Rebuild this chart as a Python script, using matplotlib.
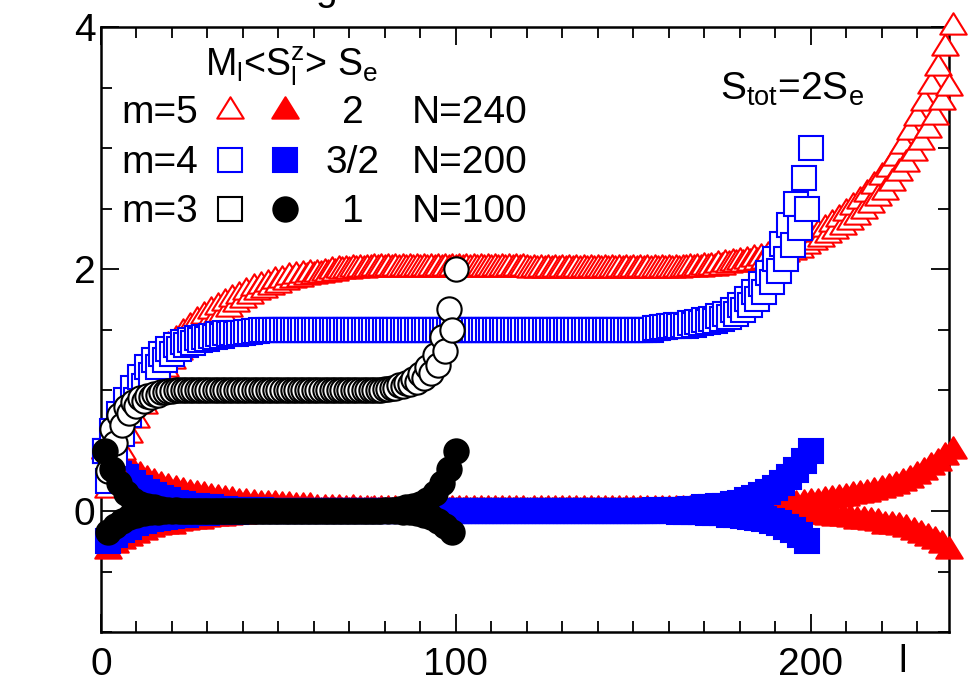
import matplotlib
matplotlib.use("Agg")
import matplotlib.pyplot as plt
import numpy as np
from matplotlib.lines import Line2D
from matplotlib.path import Path
from matplotlib.ticker import MultipleLocator

plt.rcParams["font.family"] = ["Liberation Sans", "DejaVu Sans"]
plt.rcParams["mathtext.fontset"] = "custom"
plt.rcParams["mathtext.rm"] = "Liberation Sans"
plt.rcParams["mathtext.it"] = "Liberation Sans"
plt.rcParams["mathtext.default"] = "rm"

# m=3, N=100, S_e=1 : local <S_l^z> (filled) and M_l (open)
black_spin = [
    0.50, -0.17, 0.35, -0.12, 0.23, -0.08, 0.15, -0.05, 0.09, -0.03,
    0.06, -0.02, 0.04, -0.01, 0.03, -0.01, 0.02, 0.0, 0.01, 0.0,
    0.01, 0.0, 0.0, 0.0, 0.0, 0.0, 0.0, 0.0, 0.0, 0.0,
    0.0, 0.0, 0.0, 0.0, 0.0, 0.0, 0.0, 0.0, 0.0, 0.0,
    0.0, 0.0, 0.0, 0.0, 0.0, 0.0, 0.0, 0.0, 0.0, 0.0,
    0.0, 0.0, 0.0, 0.0, 0.0, 0.0, 0.0, 0.0, 0.0, 0.0,
    0.0, 0.0, 0.0, 0.0, 0.0, 0.0, 0.0, 0.0, 0.0, 0.0,
    0.0, 0.0, 0.0, 0.0, 0.0, 0.0, 0.0, 0.0, 0.0, 0.01,
    0.0, 0.01, 0.0, 0.02, -0.01, 0.03, -0.01, 0.04, -0.02, 0.06,
    -0.03, 0.09, -0.05, 0.15, -0.08, 0.23, -0.12, 0.35, -0.17, 0.50,
]
black_moment = [
    0.50, 0.33, 0.68, 0.56, 0.79, 0.71, 0.86, 0.81, 0.90, 0.87,
    0.93, 0.91, 0.95, 0.94, 0.97, 0.96, 0.98, 0.98, 0.99, 0.99,
    1.0, 1.0, 1.0, 1.0, 1.0, 1.0, 1.0, 1.0, 1.0, 1.0,
    1.0, 1.0, 1.0, 1.0, 1.0, 1.0, 1.0, 1.0, 1.0, 1.0,
    1.0, 1.0, 1.0, 1.0, 1.0, 1.0, 1.0, 1.0, 1.0, 1.0,
    1.0, 1.0, 1.0, 1.0, 1.0, 1.0, 1.0, 1.0, 1.0, 1.0,
    1.0, 1.0, 1.0, 1.0, 1.0, 1.0, 1.0, 1.0, 1.0, 1.0,
    1.0, 1.0, 1.0, 1.0, 1.0, 1.0, 1.0, 1.0, 1.0, 1.01,
    1.01, 1.02, 1.02, 1.04, 1.03, 1.06, 1.05, 1.09, 1.07, 1.13,
    1.10, 1.19, 1.14, 1.29, 1.21, 1.44, 1.32, 1.67, 1.50, 2.00,
]

# m=4, N=200, S_e=3/2
blue_spin = [
    0.50, -0.25, 0.41, -0.20, 0.34, -0.16, 0.28, -0.13, 0.23, -0.10,
    0.19, -0.08, 0.16, -0.07, 0.13, -0.06, 0.11, -0.05, 0.09, -0.04,
    0.07, -0.03, 0.06, -0.03, 0.04, -0.02, 0.04, -0.02, 0.03, -0.02,
    0.03, -0.01, 0.02, -0.01, 0.02, -0.01, 0.01, -0.01, 0.01, 0.0,
    0.01, 0.0, 0.01, 0.0, 0.01, 0.0, 0.0, 0.0, 0.0, 0.0,
    0.0, 0.0, 0.0, 0.0, 0.0, 0.0, 0.0, 0.0, 0.0, 0.0,
    0.0, 0.0, 0.0, 0.0, 0.0, 0.0, 0.0, 0.0, 0.0, 0.0,
    0.0, 0.0, 0.0, 0.0, 0.0, 0.0, 0.0, 0.0, 0.0, 0.0,
    0.0, 0.0, 0.0, 0.0, 0.0, 0.0, 0.0, 0.0, 0.0, 0.0,
    0.0, 0.0, 0.0, 0.0, 0.0, 0.0, 0.0, 0.0, 0.0, 0.0,
    0.0, 0.0, 0.0, 0.0, 0.0, 0.0, 0.0, 0.0, 0.0, 0.0,
    0.0, 0.0, 0.0, 0.0, 0.0, 0.0, 0.0, 0.0, 0.0, 0.0,
    0.0, 0.0, 0.0, 0.0, 0.0, 0.0, 0.0, 0.0, 0.0, 0.0,
    0.0, 0.0, 0.0, 0.0, 0.0, 0.0, 0.0, 0.0, 0.0, 0.0,
    0.0, 0.0, 0.0, 0.0, 0.0, 0.0, 0.0, 0.0, 0.0, 0.0,
    0.0, 0.0, 0.0, 0.0, 0.0, 0.01, 0.0, 0.01, 0.0, 0.01,
    0.0, 0.01, -0.01, 0.01, -0.01, 0.02, -0.01, 0.02, -0.01, 0.03,
    -0.02, 0.03, -0.02, 0.04, -0.02, 0.04, -0.03, 0.06, -0.03, 0.07,
    -0.04, 0.09, -0.05, 0.11, -0.06, 0.13, -0.07, 0.16, -0.08, 0.19,
    -0.10, 0.23, -0.13, 0.28, -0.16, 0.34, -0.20, 0.41, -0.25, 0.50,
]
blue_moment = [
    0.50, 0.25, 0.66, 0.46, 0.80, 0.64, 0.92, 0.79, 1.02, 0.92,
    1.11, 1.03, 1.19, 1.12, 1.25, 1.19, 1.30, 1.25, 1.34, 1.30,
    1.37, 1.34, 1.40, 1.37, 1.41, 1.39, 1.43, 1.41, 1.44, 1.42,
    1.45, 1.44, 1.46, 1.45, 1.47, 1.46, 1.47, 1.46, 1.47, 1.47,
    1.48, 1.48, 1.49, 1.49, 1.50, 1.50, 1.50, 1.50, 1.50, 1.50,
    1.5, 1.5, 1.5, 1.5, 1.5, 1.5, 1.5, 1.5, 1.5, 1.5,
    1.5, 1.5, 1.5, 1.5, 1.5, 1.5, 1.5, 1.5, 1.5, 1.5,
    1.5, 1.5, 1.5, 1.5, 1.5, 1.5, 1.5, 1.5, 1.5, 1.5,
    1.5, 1.5, 1.5, 1.5, 1.5, 1.5, 1.5, 1.5, 1.5, 1.5,
    1.5, 1.5, 1.5, 1.5, 1.5, 1.5, 1.5, 1.5, 1.5, 1.5,
    1.5, 1.5, 1.5, 1.5, 1.5, 1.5, 1.5, 1.5, 1.5, 1.5,
    1.5, 1.5, 1.5, 1.5, 1.5, 1.5, 1.5, 1.5, 1.5, 1.5,
    1.5, 1.5, 1.5, 1.5, 1.5, 1.5, 1.5, 1.5, 1.5, 1.5,
    1.5, 1.5, 1.5, 1.5, 1.5, 1.5, 1.5, 1.5, 1.5, 1.5,
    1.5, 1.5, 1.5, 1.5, 1.5, 1.5, 1.5, 1.5, 1.5, 1.5,
    1.50, 1.50, 1.50, 1.50, 1.50, 1.51, 1.51, 1.52, 1.52, 1.53,
    1.53, 1.54, 1.53, 1.54, 1.53, 1.55, 1.54, 1.56, 1.55, 1.58,
    1.56, 1.59, 1.57, 1.61, 1.59, 1.63, 1.60, 1.66, 1.63, 1.70,
    1.66, 1.75, 1.70, 1.81, 1.75, 1.88, 1.81, 1.97, 1.89, 2.08,
    1.98, 2.21, 2.08, 2.36, 2.20, 2.54, 2.34, 2.75, 2.50, 3.00,
]

# m=5, N=240, S_e=2
red_spin = [
    0.50, -0.33, 0.45, -0.28, 0.40, -0.25, 0.36, -0.22, 0.32, -0.20,
    0.29, -0.17, 0.26, -0.15, 0.23, -0.13, 0.21, -0.12, 0.19, -0.12,
    0.17, -0.10, 0.16, -0.09, 0.14, -0.08, 0.13, -0.08, 0.12, -0.07,
    0.11, -0.06, 0.10, -0.06, 0.09, -0.05, 0.08, -0.04, 0.07, -0.04,
    0.07, -0.03, 0.06, -0.03, 0.05, -0.03, 0.05, -0.03, 0.05, -0.03,
    0.04, -0.02, 0.04, -0.02, 0.03, -0.02, 0.03, -0.02, 0.03, -0.02,
    0.02, -0.01, 0.02, -0.01, 0.02, -0.01, 0.02, -0.01, 0.01, -0.01,
    0.02, -0.01, 0.01, -0.01, 0.01, 0.0, 0.01, -0.01, 0.01, -0.01,
    0.01, -0.01, 0.01, -0.01, 0.01, -0.01, 0.01, -0.01, 0.01, -0.01,
    0.01, -0.01, 0.01, -0.01, 0.01, -0.01, 0.01, -0.01, 0.01, -0.01,
    0.01, -0.01, 0.01, -0.01, 0.01, -0.01, 0.01, -0.01, 0.01, -0.01,
    0.01, -0.01, 0.01, -0.01, 0.01, -0.01, 0.01, -0.01, 0.01, -0.01,
    -0.01, 0.01, -0.01, 0.01, -0.01, 0.01, -0.01, 0.01, -0.01, 0.01,
    -0.01, 0.01, -0.01, 0.01, -0.01, 0.01, -0.01, 0.01, -0.01, 0.01,
    -0.01, 0.01, -0.01, 0.01, -0.01, 0.01, -0.01, 0.01, -0.01, 0.01,
    -0.01, 0.01, -0.01, 0.01, -0.01, 0.01, -0.01, 0.01, -0.01, 0.01,
    -0.01, 0.01, -0.01, 0.01, 0.0, 0.01, -0.01, 0.01, -0.01, 0.02,
    -0.01, 0.01, -0.01, 0.02, -0.01, 0.02, -0.01, 0.02, -0.01, 0.02,
    -0.02, 0.03, -0.02, 0.03, -0.02, 0.03, -0.02, 0.04, -0.02, 0.04,
    -0.03, 0.05, -0.03, 0.05, -0.03, 0.05, -0.03, 0.06, -0.03, 0.07,
    -0.04, 0.07, -0.04, 0.08, -0.05, 0.09, -0.06, 0.10, -0.06, 0.11,
    -0.07, 0.12, -0.08, 0.13, -0.08, 0.14, -0.09, 0.16, -0.10, 0.17,
    -0.12, 0.19, -0.12, 0.21, -0.13, 0.23, -0.15, 0.26, -0.17, 0.29,
    -0.20, 0.32, -0.22, 0.36, -0.25, 0.40, -0.28, 0.45, -0.33, 0.50,
]
red_moment = [
    0.50, 0.17, 0.62, 0.34, 0.74, 0.49, 0.85, 0.63, 0.95, 0.75,
    1.04, 0.87, 1.13, 0.98, 1.21, 1.08, 1.29, 1.17, 1.36, 1.24,
    1.41, 1.31, 1.47, 1.38, 1.52, 1.44, 1.57, 1.49, 1.61, 1.54,
    1.65, 1.59, 1.69, 1.63, 1.72, 1.67, 1.75, 1.71, 1.78, 1.74,
    1.81, 1.78, 1.84, 1.81, 1.86, 1.83, 1.88, 1.85, 1.90, 1.87,
    1.91, 1.89, 1.93, 1.91, 1.94, 1.92, 1.95, 1.93, 1.96, 1.94,
    1.96, 1.95, 1.97, 1.96, 1.98, 1.97, 1.99, 1.98, 1.99, 1.98,
    2.00, 1.99, 2.00, 1.99, 2.00, 2.00, 2.01, 2.00, 2.01, 2.00,
    2.01, 2.00, 2.01, 2.00, 2.01, 2.00, 2.01, 2.00, 2.01, 2.00,
    2.01, 2.00, 2.01, 2.00, 2.01, 2.00, 2.01, 2.00, 2.01, 2.00,
    2.01, 2.00, 2.01, 2.00, 2.01, 2.00, 2.01, 2.00, 2.01, 2.00,
    2.01, 2.00, 2.01, 2.00, 2.01, 2.00, 2.01, 2.00, 2.01, 2.00,
    1.99, 2.00, 1.99, 2.00, 1.99, 2.00, 1.99, 2.00, 1.99, 2.00,
    1.99, 2.00, 1.99, 2.00, 1.99, 2.00, 1.99, 2.00, 1.99, 2.00,
    1.99, 2.00, 1.99, 2.00, 1.99, 2.00, 1.99, 2.00, 1.99, 2.00,
    1.99, 2.00, 1.99, 2.00, 1.99, 2.00, 1.99, 2.00, 1.99, 2.00,
    1.99, 2.00, 1.99, 2.00, 2.00, 2.01, 2.00, 2.01, 2.00, 2.02,
    2.01, 2.02, 2.01, 2.03, 2.02, 2.04, 2.03, 2.05, 2.04, 2.06,
    2.04, 2.07, 2.05, 2.08, 2.06, 2.09, 2.07, 2.11, 2.09, 2.13,
    2.10, 2.15, 2.12, 2.17, 2.14, 2.19, 2.16, 2.22, 2.19, 2.26,
    2.22, 2.29, 2.25, 2.33, 2.28, 2.37, 2.31, 2.41, 2.35, 2.46,
    2.39, 2.51, 2.43, 2.56, 2.48, 2.62, 2.53, 2.69, 2.59, 2.76,
    2.64, 2.83, 2.71, 2.92, 2.79, 3.02, 2.87, 3.13, 2.96, 3.25,
    3.05, 3.37, 3.15, 3.51, 3.26, 3.66, 3.38, 3.83, 3.50, 4.00,
]

row_labels = ["m=5", "m=4", "m=3"]
edge_spins = ["2", "3/2", "1"]
chain_sizes = ["N=240", "N=200", "N=100"]

W, H = 971, 683
RED, BLUE, BLACK = "#ff0000", "#0000ff", "#000000"
# triangle centred on its centroid
TRI = Path([(0, 2 / 3), (-0.62, -1 / 3), (0.62, -1 / 3), (0, 2 / 3)], closed=True)
MS = {"tri": 20.5, "s": 17.0, "o": 17.5}
MARK = {"tri": TRI, "s": "s", "o": "o"}
EDGE = 1.5


def fig_xy(x, y):
    return x / W, 1 - y / H


fig = plt.figure(figsize=(W / 100, H / 100), dpi=100)
ax = fig.add_axes([101 / W, 1 - 632 / H, 848 / W, 605 / H])


def draw(x, y, kind, color, filled, z):
    ax.plot(x, y, ls="none", marker=MARK[kind], ms=MS[kind], mew=EDGE,
            mec=color, mfc=color if filled else "white", clip_on=False, zorder=z)


sites_red = np.arange(1, len(red_spin) + 1)
sites_blue = np.arange(1, len(blue_spin) + 1)
sites_black = np.arange(1, len(black_spin) + 1)

draw(sites_red, red_spin, "tri", RED, True, 3.0)
draw(sites_blue, blue_spin, "s", BLUE, True, 3.1)
draw(sites_red, red_moment, "tri", RED, False, 3.2)
draw(sites_blue, blue_moment, "s", BLUE, False, 3.3)
draw(sites_black, black_moment, "o", BLACK, False, 3.4)
draw(sites_black, black_spin, "o", BLACK, True, 3.5)

ax.set_xlim(0, 239)
ax.set_ylim(-1, 4)
ax.xaxis.set_major_locator(MultipleLocator(100))
ax.xaxis.set_minor_locator(MultipleLocator(10))
ax.yaxis.set_major_locator(MultipleLocator(2))
ax.yaxis.set_minor_locator(MultipleLocator(0.5))
ax.tick_params(which="both", direction="in", top=True, right=True, width=1.3,
               labelsize=28)
ax.tick_params(which="major", length=13)
ax.tick_params(which="minor", length=8)
ax.tick_params(axis="x", pad=11)
ax.tick_params(axis="y", pad=4)
for spine in ax.spines.values():
    spine.set_linewidth(1.8)

fig.text(*fig_xy(903, 662), "l", ha="center", va="center", fontsize=28)
# title above the frame, cut by the top edge as in the original
fig.text(*fig_xy(326, 0), "g", ha="center", va="baseline", fontsize=28)

# hand-made legend table
fig.text(*fig_xy(205, 75), r"$M_l$<$S_l^z$> $S_e$", ha="left", va="baseline", fontsize=27)
fig.text(*fig_xy(720, 100), r"$S_{tot}$=2$S_e$", ha="left", va="baseline", fontsize=28)

legend_rows = [
    (123, ("tri", RED), ("tri", RED), 111),
    (173, ("s", BLUE), ("s", BLUE), 160),
    (222, ("s", BLACK), ("o", BLACK), 209),
]
for (base, opn, fil, ym), lab, spin, size in zip(legend_rows, row_labels, edge_spins, chain_sizes):
    fig.text(*fig_xy(121, base), lab, ha="left", va="baseline", fontsize=28)
    fig.text(*fig_xy(353, base), spin, ha="center", va="baseline", fontsize=28)
    fig.text(*fig_xy(412, base), size, ha="left", va="baseline", fontsize=28)
    for (kind, color), xm, filled in ((opn, 230, False), (fil, 285, True)):
        fig.add_artist(Line2D([xm / W], [1 - ym / H], transform=fig.transFigure,
                              ls="none", marker=MARK[kind], ms=MS[kind], mew=EDGE,
                              mec=color, mfc=color if filled else "white"))

fig.savefig("out.png", dpi=100)
